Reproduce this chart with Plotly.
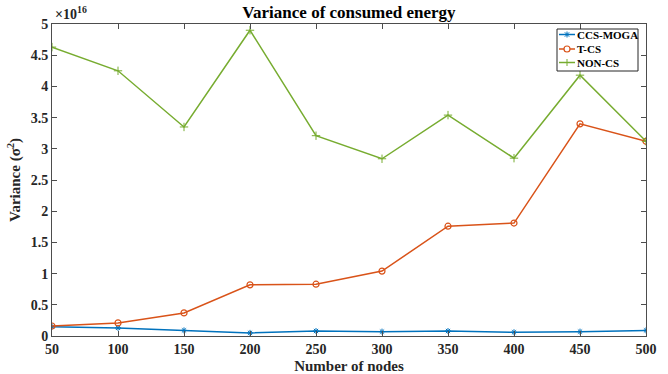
import plotly.graph_objects as go

nodes = [50, 100, 150, 200, 250, 300, 350, 400, 450, 500]
ccs_moga = [0.15, 0.13, 0.09, 0.05, 0.08, 0.07, 0.08, 0.06, 0.07, 0.09]
t_cs = [0.16, 0.21, 0.37, 0.82, 0.83, 1.04, 1.76, 1.81, 3.40, 3.12]
non_cs = [4.63, 4.25, 3.35, 4.90, 3.21, 2.84, 3.54, 2.85, 4.18, 3.12]
yticks = [0, 0.5, 1, 1.5, 2, 2.5, 3, 3.5, 4, 4.5, 5]
ytick_labels = ["0", "0.5", "1", "1.5", "2", "2.5", "3", "3.5", "4", "4.5", "5"]
series_names = ["CCS-MOGA", "T-CS", "NON-CS"]
series_colors = ["#0072BD", "#D95319", "#77AC30"]

FONT = "Liberation Serif"

fig = go.Figure()
fig.add_trace(go.Scatter(x=nodes, y=ccs_moga, name=series_names[0], mode="lines+markers",
                         line=dict(color=series_colors[0], width=1.5),
                         marker=dict(symbol="asterisk-open", size=5, color=series_colors[0],
                                     line=dict(color=series_colors[0], width=1))))
fig.add_trace(go.Scatter(x=nodes, y=t_cs, name=series_names[1], mode="lines+markers",
                         line=dict(color=series_colors[1], width=1.5),
                         marker=dict(symbol="circle-open", size=6, color=series_colors[1],
                                     line=dict(color=series_colors[1], width=1.2))))
fig.add_trace(go.Scatter(x=nodes, y=non_cs, name=series_names[2], mode="lines+markers",
                         line=dict(color=series_colors[2], width=1.5),
                         marker=dict(symbol="cross-thin-open", size=6, color=series_colors[2],
                                     line=dict(color=series_colors[2], width=1))))

axis_common = dict(showgrid=False, zeroline=False, showline=True, mirror="allticks",
                   linecolor="#4d4d4d", linewidth=1, ticks="inside", ticklen=5,
                   tickcolor="#4d4d4d", automargin=False,
                   tickfont=dict(family=FONT, size=14, color="#262626"))

fig.update_xaxes(range=[50, 500], tickvals=nodes, ticktext=[f"<b>{n}</b>" for n in nodes], **axis_common,
                 title=dict(text="<b>Number of nodes</b>", font=dict(family=FONT, size=15, color="#262626"), standoff=5))
fig.update_yaxes(range=[0, 5], tickvals=yticks, ticktext=[f"<b>{t}</b>" for t in ytick_labels], **axis_common,
                 title=dict(text="<b>Variance (σ<sup>2</sup>)</b>", font=dict(family=FONT, size=15, color="#262626"), standoff=6))

fig.add_annotation(text="<b>×10<sup>16</sup></b>", xref="paper", yref="paper", x=0.0, y=1.0,
                   xanchor="left", yanchor="bottom", showarrow=False, xshift=1,
                   font=dict(family=FONT, size=14, color="#262626"))

# --- compact legend box (pixel offsets from the top-right corner of the plot area) ---
def px_shape(kind, x0, y0, x1, y1, **kw):
    fig.add_shape(type=kind, xref="paper", yref="paper", xsizemode="pixel", ysizemode="pixel",
                  xanchor=1, yanchor=1, x0=x0, x1=x1, y0=-y0, y1=-y1, **kw)

box_l, box_r, box_t, box_b = -89, -8, 5, 47
px_shape("rect", box_l, box_t, box_r, box_b, line=dict(color="#262626", width=1), fillcolor="white", layer="above")
row_y = [10.5, 25, 38.5]
for i, (name, col) in enumerate(zip(series_names, series_colors)):
    y = row_y[i]
    px_shape("line", box_l + 2, y, box_l + 18, y, line=dict(color=col, width=1.5), layer="above")
    cx = box_l + 10
    if i == 0:
        for dx, dy in [(-3, 0), (0, -3), (-2.2, -2.2), (-2.2, 2.2)]:
            px_shape("line", cx + dx, y + dy, cx - dx, y - dy, line=dict(color=col, width=1), layer="above")
    elif i == 1:
        px_shape("circle", cx - 3, y - 3, cx + 3, y + 3, line=dict(color=col, width=1.2), fillcolor="white", layer="above")
    else:
        px_shape("line", cx - 3.5, y, cx + 3.5, y, line=dict(color=col, width=1), layer="above")
        px_shape("line", cx, y - 3.5, cx, y + 3.5, line=dict(color=col, width=1), layer="above")
    fig.add_annotation(text=f"<b>{name}</b>", xref="paper", yref="paper", x=1, y=1,
                       xanchor="left", yanchor="middle", showarrow=False,
                       xshift=box_l + 18, yshift=-y, font=dict(family=FONT, size=11, color="#000000"))

fig.update_layout(
    width=668, height=374,
    margin=dict(l=52, r=22, t=24, b=38),
    paper_bgcolor="white", plot_bgcolor="white",
    title=dict(text="<b>Variance of consumed energy</b>", x=0.5, xanchor="center", xref="paper",
               y=1 - 12/374, yanchor="middle", font=dict(family=FONT, size=17, color="#000000")),
    font=dict(family=FONT, size=13, color="#262626"),
    showlegend=False,
)

fig.write_html("out.html")
